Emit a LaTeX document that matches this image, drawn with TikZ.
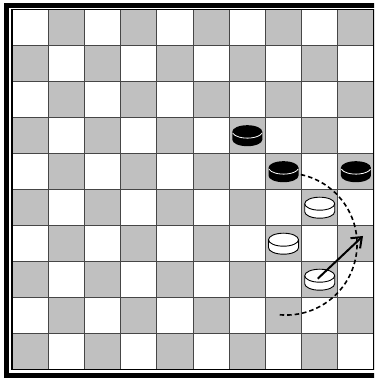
\documentclass[tikz,border=0pt]{standalone}
\usetikzlibrary{arrows.meta}
\definecolor{sq}{RGB}{192,192,192}
\definecolor{gl}{RGB}{70,70,70}
\tikzset{
  gridline/.style={gl, line width=1pt},
  boardedge/.style={black, line width=1.2pt},
  frameline/.style={black, line width=5pt},
  pieceshape/.style={line width=0.9pt},
  blackpiece/.pic={
    \fill[black] (-15,4) -- (-15,-4) arc[start angle=180,end angle=360,x radius=15,y radius=6.5] -- (15,4) arc[start angle=0,end angle=180,x radius=15,y radius=6.5] -- cycle;
    \draw[white, line width=0.8pt] (-14.6,2.6) arc[start angle=193,end angle=347,x radius=15,y radius=6.5];
  },
  whitepiece/.pic={
    \filldraw[fill=white, draw=black, pieceshape] (-15,4) -- (-15,-4) arc[start angle=180,end angle=360,x radius=15,y radius=6.5] -- (15,4) arc[start angle=0,end angle=180,x radius=15,y radius=6.5] -- cycle;
    \draw[black, pieceshape] (-15,4) arc[start angle=180,end angle=360,x radius=15,y radius=6.5];
  },
  movearrow/.style={line width=2pt, -{Straight Barb[length=9pt,width=14pt,line width=2pt]}},
  patharc/.style={line width=1.6pt, dash pattern=on 4.5pt off 3pt},
}
\begin{document}
\begin{tikzpicture}[x=1pt,y=1pt]
\useasboundingbox (0,0) rectangle (374,379);
\clip (0,0) rectangle (374,379);
\fill[white] (0,0) rectangle (374,379);
\def\cw{36.2}
\def\ch{36}
% squares
\foreach \r in {0,...,9}{
  \foreach \c in {0,...,9}{
    \pgfmathtruncatemacro{\odd}{mod(\r+\c,2)}
    \ifnum\odd=1
      \fill[sq] ({12+\c*\cw},{369.3-\r*\ch}) rectangle ++(\cw,-\ch);
    \fi
  }
}
% grid lines
\foreach \i in {1,...,9}{
  \draw[gridline] ({12+\i*\cw},9.3) -- ({12+\i*\cw},369.3);
  \draw[gridline] (12,{369.3-\i*\ch}) -- (374,{369.3-\i*\ch});
}
\draw[boardedge] (12,9.3) rectangle (374,369.3);
\draw[frameline] (6.8,3.5) rectangle (380,373.4);
% pieces
\coordinate (b1) at ({12+6.5*\cw},{369.3-3.5*\ch});
\coordinate (b2) at ({12+7.5*\cw},{369.3-4.5*\ch});
\coordinate (b3) at ({12+9.5*\cw},{369.3-4.5*\ch});
\coordinate (w1) at ({12+8.5*\cw},{369.3-5.5*\ch});
\coordinate (w2) at ({12+7.5*\cw},{369.3-6.5*\ch});
\coordinate (w3) at ({12+8.5*\cw},{369.3-7.5*\ch});
\pic at (b1) {blackpiece};
\pic at (b2) {blackpiece};
\pic at (b3) {blackpiece};
\pic at (w1) {whitepiece};
\pic at (w2) {whitepiece};
\pic at (w3) {whitepiece};
% move arrow
\coordinate (tip) at (363,143);
\draw[movearrow] ([xshift=-2pt,yshift=1pt]w3) -- (tip);
% dashed path
\coordinate (arcstart) at (300.8,204.4);
\draw[patharc] (arcstart) arc[start angle=78,end angle=-96,radius=71];
\end{tikzpicture}
\end{document}
